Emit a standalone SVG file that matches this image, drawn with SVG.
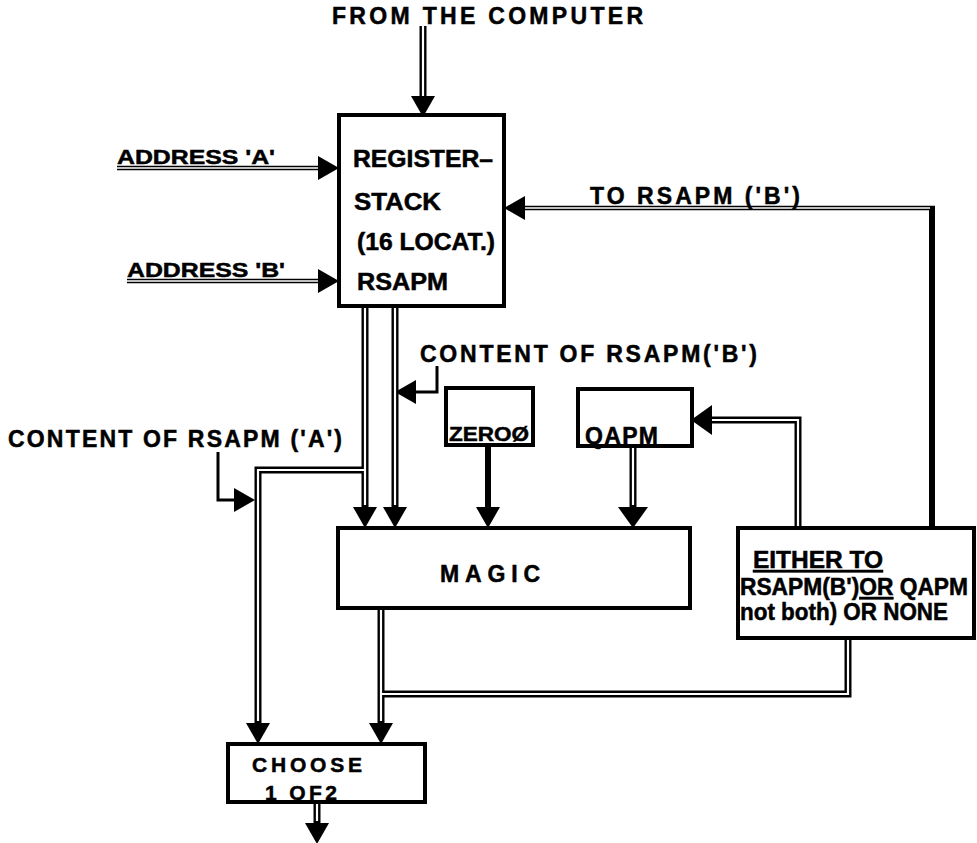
<svg xmlns="http://www.w3.org/2000/svg" width="977" height="843" viewBox="0 0 977 843">
<style>
text{font-family:"Liberation Sans",Arial,sans-serif;font-weight:bold;fill:#000;stroke:#000;stroke-width:0.5;}
.t{font-size:23px;}
.s{font-size:21px;}
.box{fill:none;stroke:#000;stroke-width:4;}
.dk{fill:none;stroke:#000;stroke-width:7;}
.dw{fill:none;stroke:#fff;stroke-width:2.2;}
.tk{fill:none;stroke:#000;stroke-width:4.5;}
.tw{fill:none;stroke:#fff;stroke-width:1.3;}
.solid{fill:none;stroke:#000;stroke-width:6;}
.thin{fill:none;stroke:#000;stroke-width:3;}
</style>
<defs>
<marker id="ah" markerUnits="userSpaceOnUse" markerWidth="22" markerHeight="26" refX="0" refY="12" orient="auto" overflow="visible"><path d="M0,0 L21,12 L0,24 z" fill="#000"/></marker>
<marker id="ahb" markerUnits="userSpaceOnUse" markerWidth="22" markerHeight="32" refX="0" refY="15" orient="auto" overflow="visible"><path d="M0,0 L21,15 L0,30 z" fill="#000"/></marker>
</defs>
<rect width="977" height="843" fill="#fff"/>

<g id="connectors">
  <path class="dk" d="M423,26 V96" marker-end="url(#ah)"/>
  <path class="tk" d="M117,168 H318" marker-end="url(#ah)"/>
  <path class="tk" d="M127,281 H318" marker-end="url(#ah)"/>
  <path class="solid" d="M932,528 V208"/>
  <path class="tk" d="M935,208 H525" marker-end="url(#ah)"/>
  <path class="dk" d="M365,306 V507" marker-end="url(#ah)"/>
  <path class="dk" d="M395,306 V507" marker-end="url(#ah)"/>
  <path class="dk" d="M365,470 H258 V723" marker-end="url(#ah)"/>
  <path class="thin" d="M437,366 V392 H416" marker-end="url(#ah)"/>
  <path class="thin" d="M218,452 V500 H234" marker-end="url(#ah)"/>
  <path class="solid" d="M488,445 V507" marker-end="url(#ah)"/>
  <path class="dk" d="M633,446 V507" marker-end="url(#ahb)"/>
  <path class="dk" d="M798,528 V420 H712" marker-end="url(#ahb)"/>
  <path class="dk" d="M381,608 V723" marker-end="url(#ah)"/>
  <path class="dk" d="M848,638 V694 H381"/>
  <path class="dk" d="M317,802 V823" marker-end="url(#ah)"/>
  <path class="dw" d="M423,24 V96"/>
  <path class="tw" d="M117,168 H318"/>
  <path class="tw" d="M127,281 H318"/>
  <path class="tw" d="M930,208 H525"/>
  <path class="dw" d="M365,304 V505"/>
  <path class="dw" d="M395,304 V505"/>
  <path class="dw" d="M365,470 H258 V721"/>
  <path class="dw" d="M633,448 V505"/>
  <path class="dw" d="M798,526 V420 H712"/>
  <path class="dw" d="M381,610 V721"/>
  <path class="dw" d="M848,636 V694 H381"/>
  <path class="dw" d="M317,804 V821"/>
</g>

<g id="from-computer"><text class="t" x="332" y="24" textLength="311" lengthAdjust="spacing">FROM THE COMPUTER</text></g>
<g id="address-a"><text class="s" x="117" y="164" textLength="158" lengthAdjust="spacingAndGlyphs">ADDRESS 'A'</text></g>
<g id="address-b"><text class="s" x="127" y="277" textLength="158" lengthAdjust="spacingAndGlyphs">ADDRESS 'B'</text></g>
<g id="to-rsapm-b"><text class="t" x="590" y="204" textLength="210" lengthAdjust="spacing">TO RSAPM ('B')</text></g>
<g id="content-b"><text class="t" x="420" y="362" textLength="337" lengthAdjust="spacing">CONTENT OF RSAPM('B')</text></g>
<g id="content-a"><text class="t" x="8" y="447" textLength="334" lengthAdjust="spacing">CONTENT OF RSAPM ('A')</text></g>

<g id="register-stack">
  <rect class="box" x="339" y="115" width="165" height="191"/>
  <text class="t" x="353" y="167" textLength="140" lengthAdjust="spacingAndGlyphs">REGISTER–</text>
  <text class="t" x="354" y="210" textLength="87" lengthAdjust="spacingAndGlyphs">STACK</text>
  <text class="t" x="357" y="250" textLength="138" lengthAdjust="spacingAndGlyphs">(16 LOCAT.)</text>
  <text class="t" x="357" y="290" textLength="91" lengthAdjust="spacingAndGlyphs">RSAPM</text>
</g>

<g id="zero">
  <rect class="box" x="446" y="388" width="87" height="57"/>
  <text class="s" x="449" y="441" textLength="80" lengthAdjust="spacingAndGlyphs">ZEROØ</text>
</g>

<g id="qapm">
  <rect class="box" x="578" y="389" width="114" height="57"/>
  <text class="t" x="585" y="444" textLength="73" lengthAdjust="spacing">QAPM</text>
</g>

<g id="magic">
  <rect class="box" x="338" y="528" width="352" height="80"/>
  <text class="t" x="440" y="582" textLength="100" lengthAdjust="spacing">MAGIC</text>
</g>

<g id="either-box">
  <rect class="box" x="738" y="528" width="236" height="110"/>
  <text class="t" x="753" y="568" textLength="130" lengthAdjust="spacingAndGlyphs" text-decoration="underline">EITHER TO</text>
  <text class="t" x="740" y="595" textLength="228" lengthAdjust="spacingAndGlyphs">RSAPM(B')<tspan text-decoration="underline">OR</tspan> QAPM</text>
  <text class="t" x="740" y="620" textLength="208" lengthAdjust="spacingAndGlyphs">not both) OR NONE</text>
</g>

<g id="choose">
  <rect class="box" x="228" y="744" width="197" height="58"/>
  <text class="s" x="252" y="772" textLength="110" lengthAdjust="spacing">CHOOSE</text>
  <text class="s" x="265" y="800" textLength="72" lengthAdjust="spacing">1 OF2</text>
</g>
</svg>
